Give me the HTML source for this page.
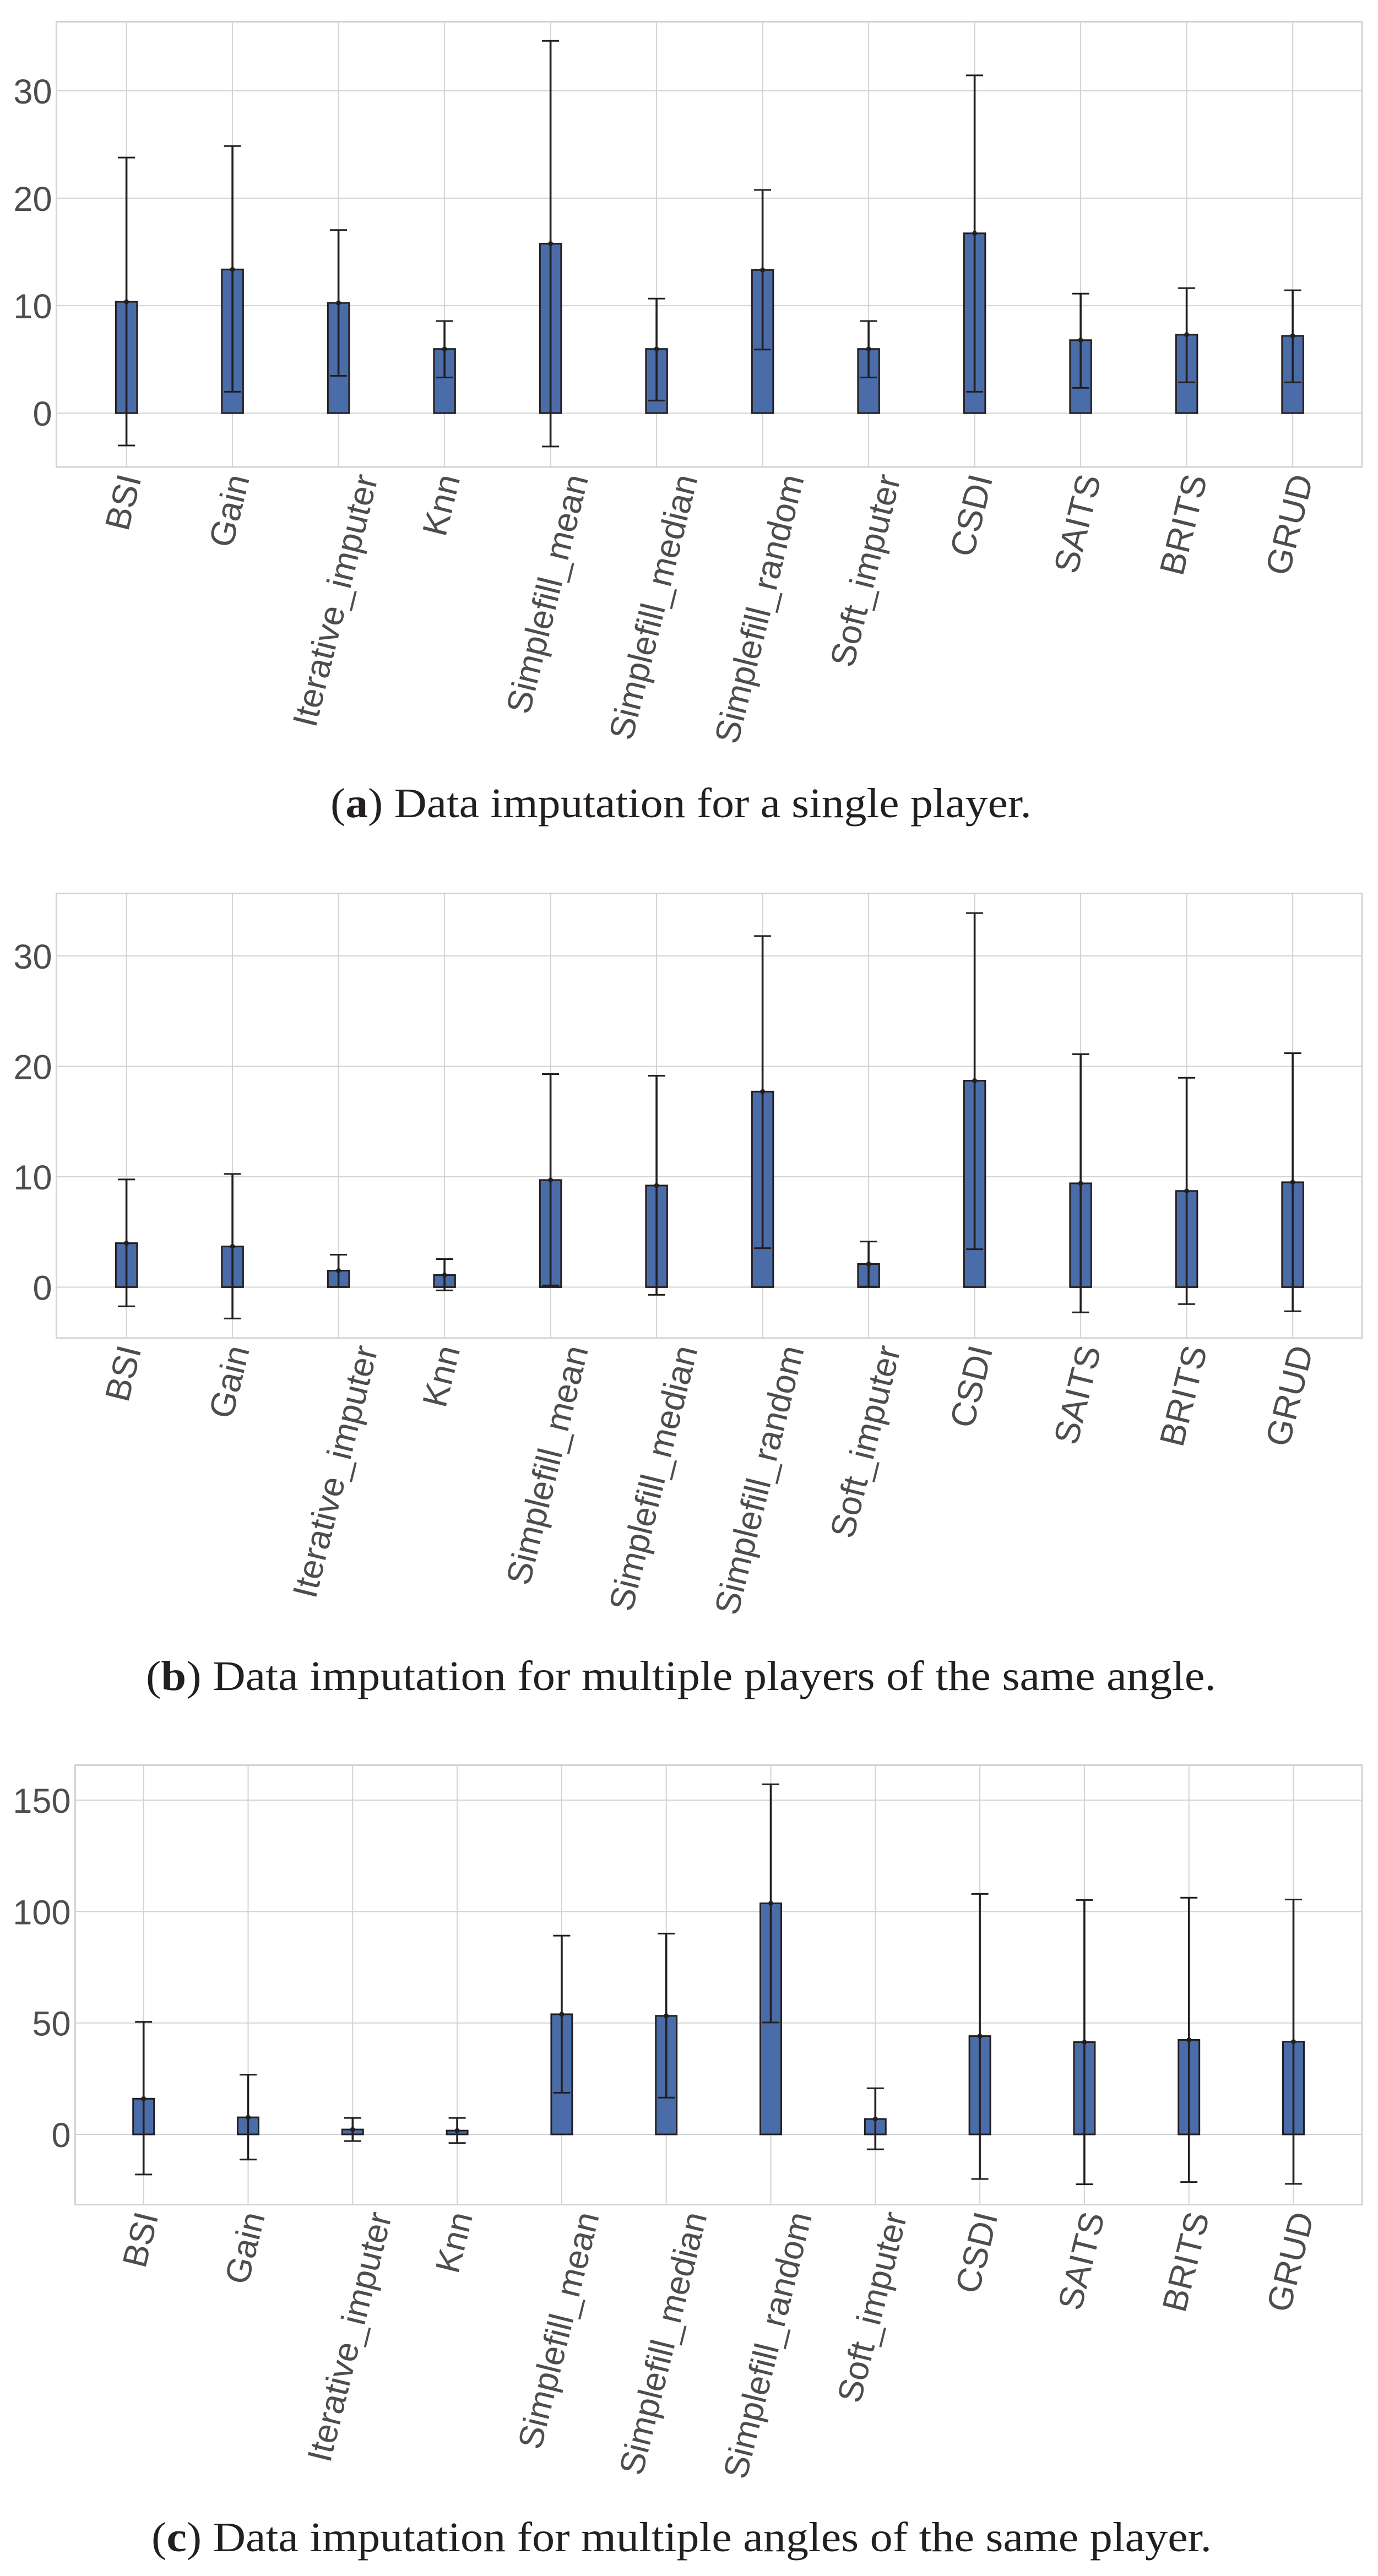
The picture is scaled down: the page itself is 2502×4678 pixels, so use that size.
<!DOCTYPE html>
<html>
<head>
<meta charset="utf-8">
<title>Data imputation error bar charts</title>
<style>
html,body{margin:0;padding:0;background:#fff;}
svg{display:block;}
.tick{font-family:"Liberation Sans",Arial,sans-serif;font-size:63px;fill:#4d4d4f;}
.cap{font-family:"Liberation Serif",serif;font-size:76px;fill:#231f20;}
</style>
</head>
<body>
<svg id="fig" xmlns="http://www.w3.org/2000/svg" width="2502" height="4678" viewBox="0 0 2502 4678">
<rect width="2502" height="4678" fill="#ffffff"/>
<g id="panels"></g>
<text class="cap" x="600" y="1484" textLength="1273" lengthAdjust="spacingAndGlyphs">(<tspan font-weight="bold">a</tspan>) Data imputation for a single player.</text>
<text class="cap" x="265" y="3069" textLength="1943" lengthAdjust="spacingAndGlyphs">(<tspan font-weight="bold">b</tspan>) Data imputation for multiple players of the same angle.</text>
<text class="cap" x="275" y="4633" textLength="1925" lengthAdjust="spacingAndGlyphs">(<tspan font-weight="bold">c</tspan>) Data imputation for multiple angles of the same player.</text>
</svg>
<script>
const categories = ["BSI","Gain","Iterative_imputer","Knn","Simplefill_mean","Simplefill_median","Simplefill_random","Soft_imputer","CSDI","SAITS","BRITS","GRUD"];

const ticksA = [0,10,20,30];
const meansA = [10.36,13.37,10.26,5.97,15.77,5.97,13.32,5.97,16.73,6.79,7.3,7.19];
const upperA = [23.78,24.85,17.04,8.57,34.64,10.66,20.77,8.57,31.43,11.12,11.63,11.43];
const lowerA = [-3.01,1.99,3.47,3.32,-3.11,1.17,5.92,3.32,1.99,2.35,2.86,2.86];

const ticksB = [0,10,20,30];
const meansB = [3.98,3.68,1.49,1.09,9.7,9.2,17.71,2.09,18.7,9.4,8.71,9.5];
const upperB = [9.75,10.25,2.94,2.54,19.3,19.15,31.8,4.13,33.88,21.1,18.96,21.19];
const lowerB = [-1.74,-2.84,0.03,-0.3,0.15,-0.7,3.53,0.05,3.43,-2.29,-1.54,-2.19];

const ticksC = [0,50,100,150];
const meansC = [16,7.64,2.2,1.7,53.9,53.2,103.7,6.9,44.1,41.4,42.4,41.6];
const upperC = [50.5,26.8,7.4,7.4,89.2,90.1,157.1,20.7,107.9,105.2,106.2,105.4];
const lowerC = [-18,-11.3,-3,-3.9,18.7,16.5,50.2,-6.7,-20,-22.4,-21.4,-22.2];

const NS = "http://www.w3.org/2000/svg";
const root = document.getElementById("panels");

function mk(parent, tag, attrs) {
  const el = document.createElementNS(NS, tag);
  for (const k in attrs) el.setAttribute(k, attrs[k]);
  parent.appendChild(el);
  return el;
}

function drawPanel(id, box, domain, ticks, means, upper, lower) {
  const g = mk(root, "g", {});
  
  

  const y = v => box.bottom - (v - domain[0]) / (domain[1] - domain[0]) * (box.bottom - box.top);
  const x = i => box.x0 + i * box.step;
  const barW = box.step * 0.2;
  const capHalf = 15.5;

  // gridlines
  ticks.forEach(t => {
    const line = mk(g, "line", {x1: box.left, x2: box.right, y1: y(t), y2: y(t), stroke: "#d2d3d4", "stroke-width": 2});
    
    
  });
  categories.forEach((c, i) => {
    const line = mk(g, "line", {x1: x(i), x2: x(i), y1: box.top, y2: box.bottom, stroke: "#d2d3d4", "stroke-width": 2});
    
    
  });

  // frame
  const frame = mk(g, "rect", {x: box.left, y: box.top, width: box.right - box.left, height: box.bottom - box.top, fill: "none", stroke: "#d2d3d4", "stroke-width": 3});
  
  

  // y tick labels
  ticks.forEach(t => {
    const lab = mk(g, "text", {class: "tick", x: box.left - 8, y: y(t) + 23, "text-anchor": "end"});
    lab.textContent = String(t);
    
    
  });

  // bars, error bars, markers
  categories.forEach((c, i) => {
    const top = y(means[i]), base = y(0);
    const bar = mk(g, "rect", {x: x(i) - barW / 2, y: Math.min(top, base), width: barW, height: Math.abs(base - top), fill: "#4a6ca9", stroke: "#231f20", "stroke-width": 3});
    
    

    const stem = mk(g, "line", {x1: x(i), x2: x(i), y1: y(upper[i]), y2: y(lower[i]), stroke: "#231f20", "stroke-width": 3.6});
    
    

    const capU = mk(g, "line", {x1: x(i) - capHalf, x2: x(i) + capHalf, y1: y(upper[i]), y2: y(upper[i]), stroke: "#231f20", "stroke-width": 3});
    
    

    const capL = mk(g, "line", {x1: x(i) - capHalf, x2: x(i) + capHalf, y1: y(lower[i]), y2: y(lower[i]), stroke: "#231f20", "stroke-width": 3});
    
    

    const dot = mk(g, "circle", {cx: x(i), cy: top, r: 4.5, fill: "#231f20"});
    
    

    // rotated category label: centre of the rotated box stays on the tick, top stays fixed
    const lab = mk(g, "text", {class: "tick", "text-anchor": "middle", style: "font-size:" + box.labelSize + "px"});
    lab.textContent = c;
    
    
    const L = lab.getComputedTextLength();
    const px = x(i) + box.labelDx;
    const py = box.bottom + box.labelDy + L * 0.485;
    lab.setAttribute("x", px);
    lab.setAttribute("y", py);
    lab.setAttribute("transform", "rotate(-76 " + px + " " + py + ")");
  });
}

drawPanel("a", {left:102.5, right:2473, top:39.5, bottom:848, x0:229.6, step:192.5, labelDx:15, labelDy:20, labelSize:63}, [-5.01,36.42], ticksA, meansA, upperA, lowerA);
drawPanel("b", {left:102.5, right:2473, top:1622.5, bottom:2430, x0:229.6, step:192.5, labelDx:15, labelDy:20, labelSize:63}, [-4.62,35.66], ticksB, meansB, upperB, lowerB);
drawPanel("c", {left:136.5, right:2473, top:3205.5, bottom:4003.5, x0:260.7, step:189.8, labelDx:15, labelDy:20, labelSize:62.4}, [-31.5,165.7], ticksC, meansC, upperC, lowerC);
</script>
</body>
</html>
